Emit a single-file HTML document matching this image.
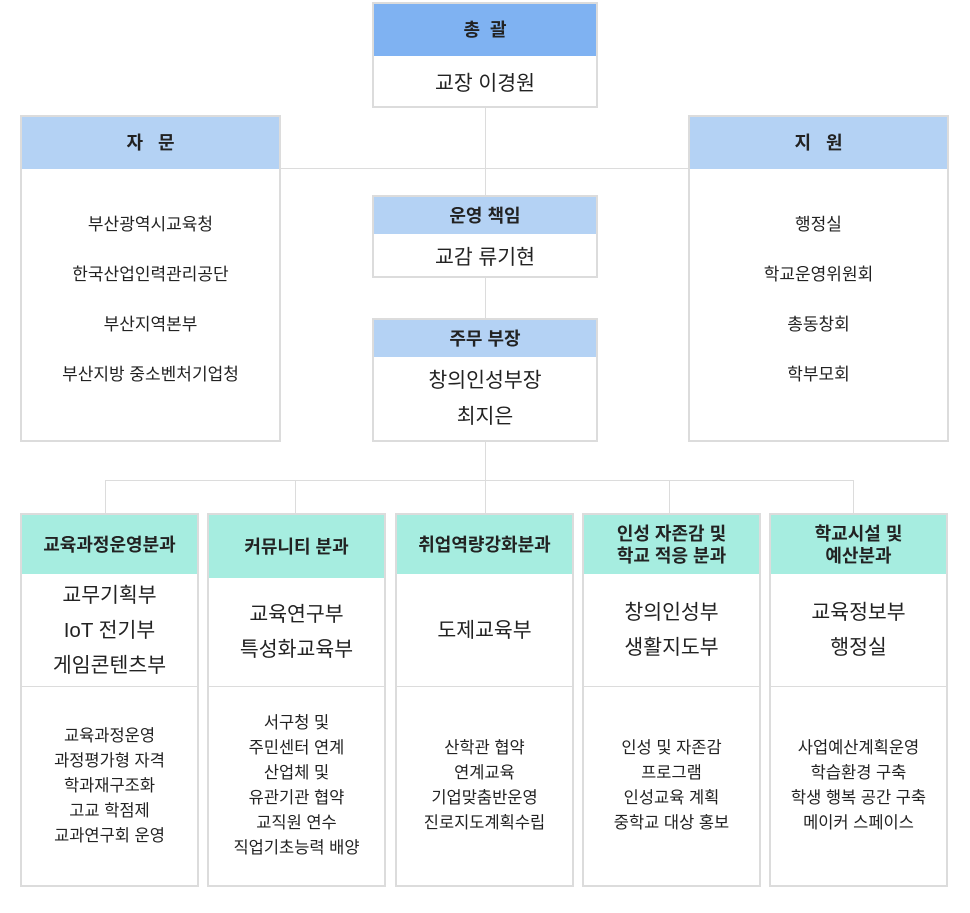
<!DOCTYPE html>
<html><head><meta charset="utf-8"><style>
body{margin:0;width:970px;height:913px;background:#fff;position:relative;font-family:"Liberation Sans","Noto Sans CJK KR",sans-serif;color:#222;overflow:hidden}
.b{position:absolute;border:2px solid #dcdcdc;box-sizing:border-box;background:#fff}
.h{position:absolute;left:0;right:0;top:0;display:flex;align-items:center;justify-content:center;font-weight:bold;font-size:18px;text-align:center;line-height:22px;color:#222}
.c{position:absolute;left:0;right:0;display:flex;flex-direction:column;align-items:center;justify-content:center;text-align:center}
.l{position:absolute;background:#dcdcdc}
.bl{background:#b4d2f4}.tl{background:#a6ede0}
.m{font-size:20.5px;line-height:35px}
.s{font-size:16.5px;line-height:25px}
</style></head><body>
<div class="l" style="left:485px;top:107px;width:1px;height:407px"></div>
<div class="l" style="left:280px;top:168px;width:409px;height:1px"></div>
<div class="l" style="left:105px;top:480px;width:749px;height:1px"></div>
<div class="l" style="left:105px;top:480px;width:1px;height:34px"></div>
<div class="l" style="left:295px;top:480px;width:1px;height:34px"></div>
<div class="l" style="left:669px;top:480px;width:1px;height:34px"></div>
<div class="l" style="left:853px;top:480px;width:1px;height:34px"></div>

<div class="b" style="left:372px;top:2px;width:226px;height:106px">
<div class="h" style="height:52px;background:#7fb2f2">총&nbsp;&nbsp;괄</div>
<div class="c" style="top:52px;bottom:0;font-size:20.5px">교장 이경원</div></div>

<div class="b" style="left:20px;top:115px;width:261px;height:327px">
<div class="h bl" style="height:52px">자&nbsp;&nbsp;&nbsp;문</div>
<div class="c" style="top:52px;bottom:0;font-size:17px;line-height:50px;padding-bottom:10px;box-sizing:border-box">부산광역시교육청<br>한국산업인력관리공단<br>부산지역본부<br>부산지방 중소벤처기업청</div></div>

<div class="b" style="left:688px;top:115px;width:261px;height:327px">
<div class="h bl" style="height:52px">지&nbsp;&nbsp;&nbsp;원</div>
<div class="c" style="top:52px;bottom:0;font-size:17px;line-height:50px;padding-bottom:10px;box-sizing:border-box">행정실<br>학교운영위원회<br>총동창회<br>학부모회</div></div>

<div class="b" style="left:372px;top:195px;width:226px;height:83px">
<div class="h bl" style="height:37px">운영 책임</div>
<div class="c" style="top:37px;bottom:0;font-size:20.5px">교감 류기현</div></div>

<div class="b" style="left:372px;top:318px;width:226px;height:124px">
<div class="h bl" style="height:37px">주무 부장</div>
<div class="c" style="top:37px;bottom:0;font-size:20.5px;line-height:36px">창의인성부장<br>최지은</div></div>

<div class="b" style="left:20px;top:513px;width:179px;height:374px">
<div class="h tl" style="height:59px">교육과정운영분과</div>
<div class="c m" style="top:59px;height:112px">교무기획부<br>IoT 전기부<br>게임콘텐츠부</div>
<div class="l" style="left:0;right:0;top:171px;height:1px"></div>
<div class="c s" style="top:172px;bottom:0">교육과정운영<br>과정평가형 자격<br>학과재구조화<br>고교 학점제<br>교과연구회 운영</div></div>

<div class="b" style="left:207px;top:513px;width:179px;height:374px">
<div class="h tl" style="height:63px">커뮤니티 분과</div>
<div class="c m" style="top:63px;height:108px">교육연구부<br>특성화교육부</div>
<div class="l" style="left:0;right:0;top:171px;height:1px"></div>
<div class="c s" style="top:172px;bottom:0">서구청 및<br>주민센터 연계<br>산업체 및<br>유관기관 협약<br>교직원 연수<br>직업기초능력 배양</div></div>

<div class="b" style="left:395px;top:513px;width:179px;height:374px">
<div class="h tl" style="height:59px">취업역량강화분과</div>
<div class="c m" style="top:59px;height:112px">도제교육부</div>
<div class="l" style="left:0;right:0;top:171px;height:1px"></div>
<div class="c s" style="top:172px;bottom:0">산학관 협약<br>연계교육<br>기업맞춤반운영<br>진로지도계획수립</div></div>

<div class="b" style="left:582px;top:513px;width:179px;height:374px">
<div class="h tl" style="height:59px">인성 자존감 및<br>학교 적응 분과</div>
<div class="c m" style="top:59px;height:112px">창의인성부<br>생활지도부</div>
<div class="l" style="left:0;right:0;top:171px;height:1px"></div>
<div class="c s" style="top:172px;bottom:0">인성 및 자존감<br>프로그램<br>인성교육 계획<br>중학교 대상 홍보</div></div>

<div class="b" style="left:769px;top:513px;width:179px;height:374px">
<div class="h tl" style="height:59px">학교시설 및<br>예산분과</div>
<div class="c m" style="top:59px;height:112px">교육정보부<br>행정실</div>
<div class="l" style="left:0;right:0;top:171px;height:1px"></div>
<div class="c s" style="top:172px;bottom:0">사업예산계획운영<br>학습환경 구축<br>학생 행복 공간 구축<br>메이커 스페이스</div></div>
</body></html>
